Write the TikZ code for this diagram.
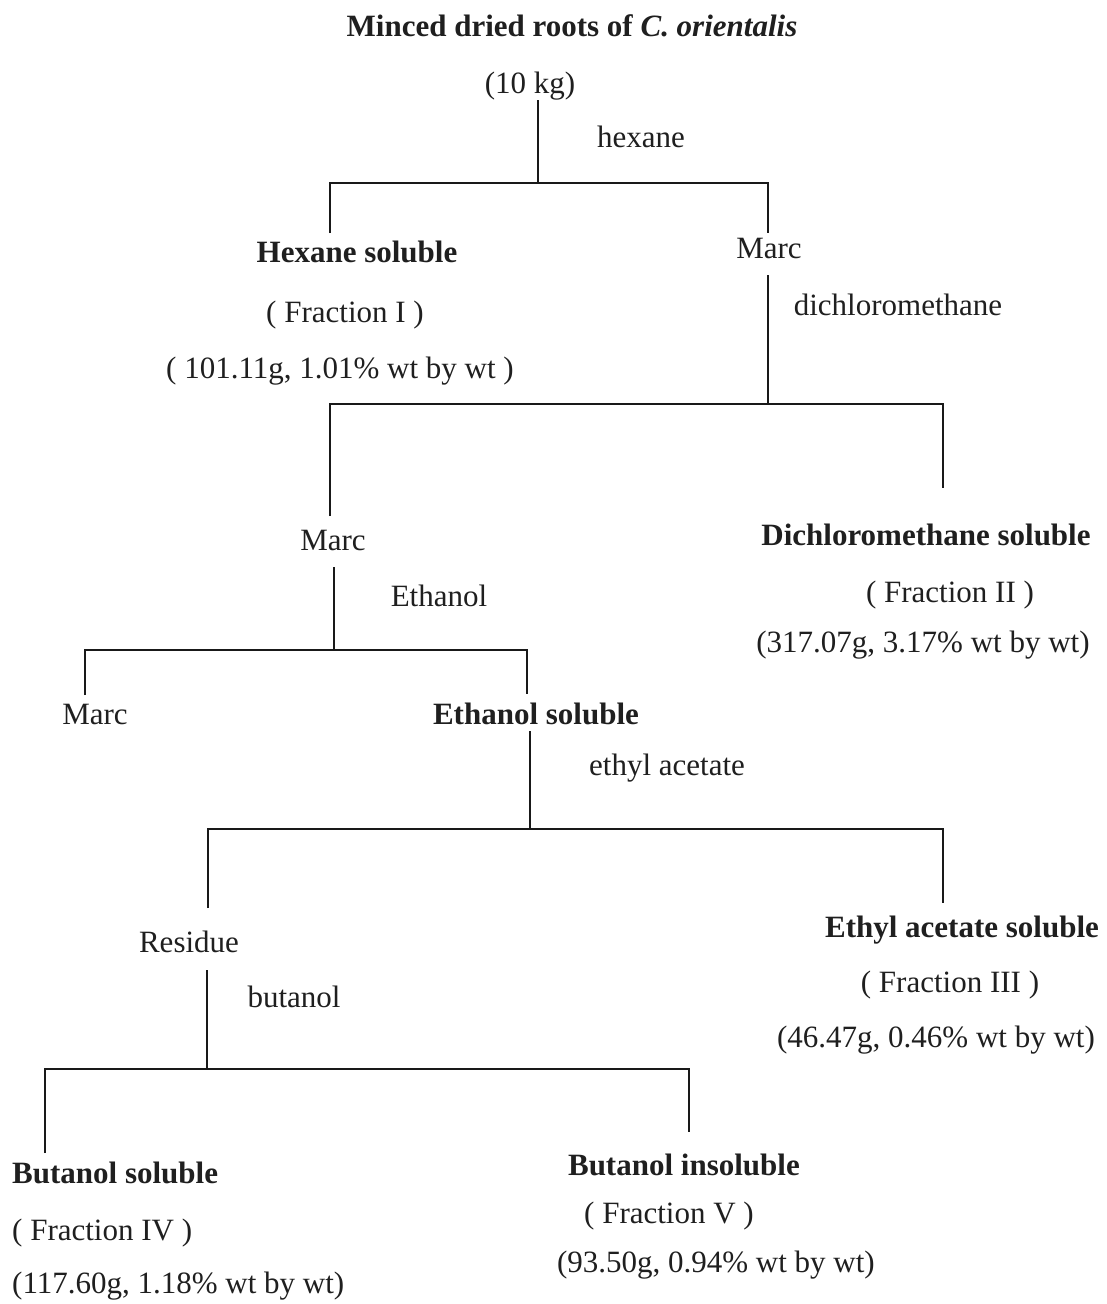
\documentclass[tikz,border=0pt]{standalone}
\usepackage{fontspec}
\setmainfont{Liberation Serif}
\begin{document}
\begin{tikzpicture}[x=1pt,y=-1pt,
  txt/.style={inner sep=0pt,anchor=base,font=\fontsize{31}{37}\selectfont,text=black!88},
  btxt/.style={txt,font=\fontsize{31}{37}\selectfont\bfseries},
  ln/.style={draw=black!90,line width=2.4pt}]
\useasboundingbox[fill=white] (0,0) rectangle (1107,1304);
% texts
\node[btxt] (title) at (572,36) {Minced dried roots of \textit{C. orientalis}};
\node[txt] (kg) at (530,93) {(10 kg)};
\node[txt] (hex) at (641,147) {hexane};
\node[btxt] (hexsol) at (357,262) {Hexane soluble};
\node[txt] (marcA) at (769,258) {Marc};
\node[txt] (fI) at (345,322) {( Fraction I )};
\node[txt] (wI) at (340,378) {( 101.11g, 1.01\% wt by wt )};
\node[txt] (dcm) at (898,315) {dichloromethane};
\node[txt] (marcB) at (333,550) {Marc};
\node[btxt] (dcmsol) at (926,545) {Dichloromethane soluble};
\node[txt] (fII) at (950,602) {( Fraction II )};
\node[txt] (wII) at (923,652) {(317.07g, 3.17\% wt by wt)};
\node[txt] (eth) at (439,606) {Ethanol};
\node[txt] (marcC) at (95,724) {Marc};
\node[btxt] (ethsol) at (536,724) {Ethanol soluble};
\node[txt] (ea) at (667,775) {ethyl acetate};
\node[txt] (res) at (189,952) {Residue};
\node[btxt] (easol) at (962,937) {Ethyl acetate soluble};
\node[txt] (fIII) at (950,992) {( Fraction III )};
\node[txt] (wIII) at (936,1047) {(46.47g, 0.46\% wt by wt)};
\node[txt] (but) at (294,1007) {butanol};
\node[btxt,anchor=base west] (butsol) at (12,1183) {Butanol soluble};
\node[txt,anchor=base west] (fIV) at (12,1240) {( Fraction IV )};
\node[txt,anchor=base west] (wIV) at (12,1293) {(117.60g, 1.18\% wt by wt)};
\node[btxt,anchor=base east] (butins) at (800,1175) {Butanol insoluble};
\node[txt,anchor=base east] (fV) at (754,1223) {( Fraction V )};
\node[txt,anchor=base east] (wV) at (875,1272) {(93.50g, 0.94\% wt by wt)};
% junction coordinates
\coordinate (s1t) at (538,100); \coordinate (s1j) at (538,183);
\coordinate (s1l) at (330,233); \coordinate (s1r) at (768,233);
\coordinate (s2t) at (768,275); \coordinate (s2j) at (768,404);
\coordinate (s2l) at (330,516); \coordinate (s2r) at (943,488);
\coordinate (s3t) at (334,567); \coordinate (s3j) at (334,650);
\coordinate (s3l) at (85,695);  \coordinate (s3r) at (527,694);
\coordinate (s4t) at (530,731); \coordinate (s4j) at (530,829);
\coordinate (s4l) at (208,908); \coordinate (s4r) at (943,903);
\coordinate (s5t) at (207,970); \coordinate (s5j) at (207,1069);
\coordinate (s5l) at (45,1153); \coordinate (s5r) at (689,1132);
% connectors
\draw[ln] (s1t) -- (s1j);
\draw[ln] (s1l) |- (s1r |- s1j) -- (s1r);
\draw[ln] (s2t) -- (s2j);
\draw[ln] (s2l) |- (s2r |- s2j) -- (s2r);
\draw[ln] (s3t) -- (s3j);
\draw[ln] (s3l) |- (s3r |- s3j) -- (s3r);
\draw[ln] (s4t) -- (s4j);
\draw[ln] (s4l) |- (s4r |- s4j) -- (s4r);
\draw[ln] (s5t) -- (s5j);
\draw[ln] (s5l) |- (s5r |- s5j) -- (s5r);
\end{tikzpicture}
\end{document}
